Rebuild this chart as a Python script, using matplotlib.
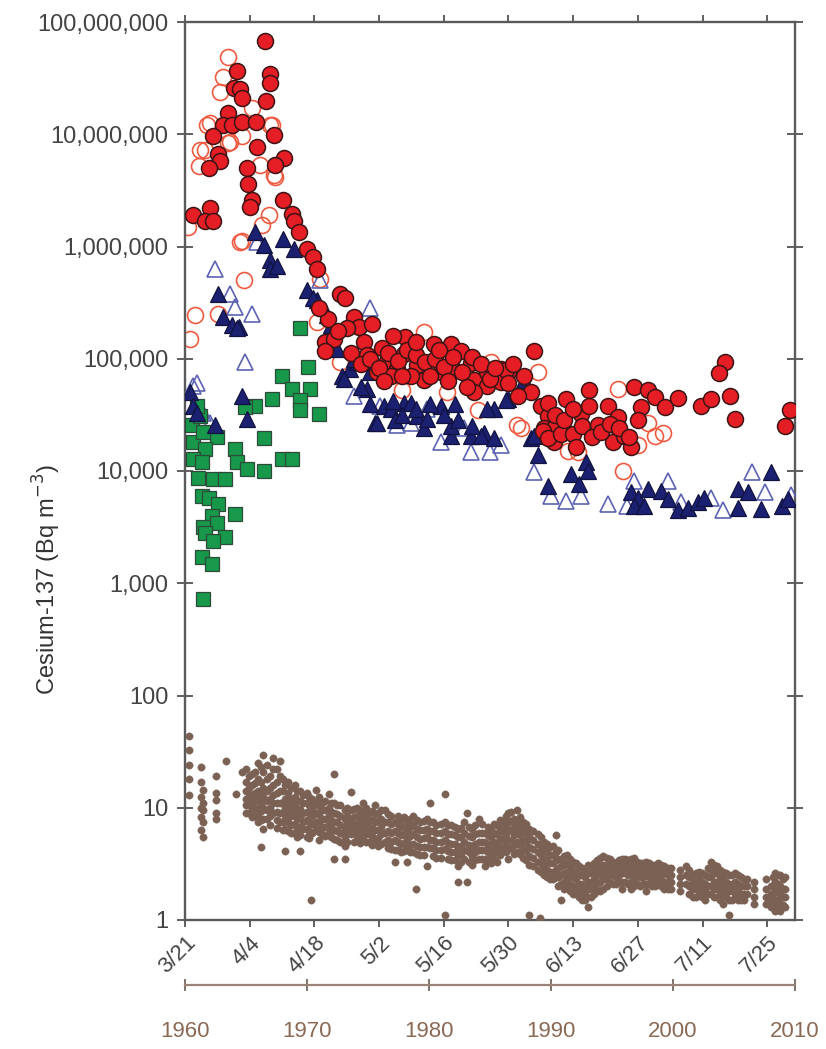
import matplotlib
matplotlib.use("Agg")
import matplotlib.pyplot as plt
import numpy as np

plt.rcParams["font.family"] = ["Liberation Sans", "DejaVu Sans"]

# x = days after 21 March 2011, y = log10(Bq m-3)
red_fill_day = [17.4, 11.2, 18.3, 18.4, 10.5, 11.8, 12.3, 17.6, 9.4, 8.3, 10.1, 12.3, 15.4, 6.1,
                19.3, 15.5, 7.2, 7.6, 5.1, 13.4, 21.5, 19.5, 13.7, 14.5, 14.1, 21.3, 1.8, 5.4,
                4.3, 6.1, 23.1, 23.5, 24.6, 26.4, 27.8, 28.6, 33.6, 34.7, 36.5, 37.6, 40.5, 35.1,
                30.4, 32.2, 30.4, 38.7, 42.7, 47.7, 39.4, 43.8, 47.4, 41.6, 45.9, 50.3, 53.9,
                57.5, 59.7, 55.3, 58.2, 61.8, 62.5, 51.7, 48.8, 44.5, 65.4, 68.3, 69.8, 65.4,
                62.5, 68.3, 75.6, 73.4, 74.8, 77.0, 78.5, 77.7, 79.9, 79.9, 78.5, 69.4, 77.4,
                78.5, 81.3, 82.4, 83.9, 84.6, 85.7, 87.5, 87.5, 89.3, 91.5, 93.7, 92.6, 95.1,
                96.5, 97.2, 100.1, 101.6, 98.7, 103.8, 106.6, 111.7, 113.9, 116.8, 115.6,
                117.9, 119.0, 130.9, 129.8,
                36.0, 38.0, 40.0, 42.0, 44.0, 46.0, 48.0, 50.0, 52.0, 54.0, 56.0, 58.0, 60.0,
                62.0, 64.0, 66.0, 67.0, 70.0, 71.0, 72.0, 80.0, 82.0, 84.0, 86.0, 88.0, 90.0,
                92.0, 94.0, 96.0, 98.0, 43.0, 47.0, 53.0, 57.0, 61.0, 45.0, 50.0, 55.0, 31.0,
                33.0, 29.0]
red_fill_log = [7.83, 7.565, 7.54, 7.455, 7.41, 7.40, 7.32, 7.30, 7.19, 7.08, 7.08, 7.11, 7.11, 6.98,
                6.99, 6.89, 6.82, 6.76, 6.70, 6.70, 6.79, 6.73, 6.56, 6.41, 6.35, 6.41, 6.28, 6.34,
                6.23, 6.23, 6.29, 6.23, 6.13, 5.98, 5.91, 5.80, 5.58, 5.54, 5.37, 5.28, 5.31, 5.27,
                5.15, 5.18, 5.07, 5.15, 5.10, 5.19, 5.03, 4.98, 5.04, 4.88, 4.91, 4.94, 5.13,
                5.13, 5.07, 4.88, 4.90, 4.96, 4.81, 4.81, 4.85, 4.85, 4.88, 4.91, 4.88, 4.76,
                4.70, 4.79, 5.07, 4.85, 4.70, 4.58, 4.49, 4.38, 4.26, 4.38, 4.61, 4.90, 4.36,
                4.29, 4.33, 4.64, 4.33, 4.21, 4.51, 4.72, 4.58, 4.41, 4.58, 4.48, 4.26, 4.31,
                4.21, 4.75, 4.72, 4.66, 4.57, 4.57, 4.65, 4.58, 4.64, 4.97, 4.87,
                4.67, 4.46, 4.54, 4.40,
                5.05, 4.95, 5.00, 4.92, 5.05, 4.98, 5.08, 5.03, 4.97, 5.00, 4.93, 5.02, 4.88,
                5.02, 4.95, 4.82, 4.92, 4.78, 4.95, 4.67, 4.50, 4.45, 4.55, 4.40, 4.30, 4.35,
                4.42, 4.38, 4.30, 4.45, 4.80, 4.85, 4.85, 4.80, 4.75, 5.20, 5.15, 5.08, 5.35,
                5.25, 5.45]

red_open_day = [9.4, 8.3, 7.6, 5.4, 4.3, 9.4, 16.3, 19.5, 18.8, 14.5, 12.3, 18.1, 0.6, 12.3, 16.6,
                12.7, 2.2, 7.2, 1.1, 28.6, 4.7, 3.3, 3.0, 9.8, 18.4, 19.2, 11.9, 51.7, 29.3, 66.2,
                76.3, 63.3, 72.7, 56.7, 33.6, 47.0, 93.7, 92.9, 100.1, 101.6, 103.4, 98.0, 94.7,
                85.0, 82.8, 71.9]
red_open_log = [7.69, 7.51, 7.38, 7.10, 6.86, 6.92, 6.73, 6.62, 7.08, 7.23, 6.98, 6.28, 6.17, 6.05, 6.19,
                5.70, 5.39, 5.40, 5.18, 5.33, 7.08, 6.86, 6.72, 6.93, 7.08, 6.64, 6.04, 5.24, 5.71, 4.97,
                4.88, 4.54, 4.38, 4.70, 4.97, 4.72, 4.73, 4.41, 4.43, 4.31, 4.34, 4.23, 4.00,
                4.17, 4.18, 4.41]

tri_fill_day = [15.2, 17.0, 18.4, 18.4, 7.2, 8.3, 10.1, 11.6, 21.3, 26.4, 28.6, 30.7, 12.3, 13.4,
                1.1, 1.8, 19.9, 23.5, 27.8, 11.2, 6.5, 2.5, 31.5, 32.9, 34.0, 35.8, 37.2, 39.4,
                41.2, 43.0, 44.5, 47.4, 50.3, 51.7, 55.3, 57.5, 61.8, 64.7, 66.9, 36.5, 34.3,
                40.1, 41.6, 48.8, 52.4, 57.5, 64.0, 66.9, 65.4, 69.8, 73.4, 74.8, 76.3, 78.5,
                69.4, 75.6, 83.5, 85.3, 86.8, 87.1, 96.5, 98.0, 100.1, 103.0, 104.5, 106.6,
                108.8, 111.0, 112.4, 119.7, 121.8, 119.7, 126.9, 124.7, 129.1, 130.5, 97.2, 99.4,
                38.0, 45.0, 50.0, 53.0, 56.0, 59.0, 62.0, 45.5, 47.0, 40.0, 58.5]
tri_fill_log = [6.13, 6.01, 5.88, 5.80, 5.58, 5.37, 5.30, 5.28, 6.07, 5.61, 5.52, 5.39, 4.67, 4.46,
                4.70, 4.58, 5.83, 5.98, 5.54, 5.27, 4.41, 4.52, 5.30, 5.09, 4.85, 4.91, 4.97, 4.73,
                4.43, 4.58, 4.55, 4.61, 4.49, 4.38, 4.58, 4.31, 4.31, 4.34, 4.55, 5.00, 4.82,
                4.88, 4.43, 4.61, 4.46, 4.40, 4.31, 4.29, 4.55, 4.64, 4.81, 4.29, 4.14, 3.87,
                4.63, 4.31, 3.97, 3.88, 4.08, 4.00, 3.81, 3.76, 3.84, 3.82, 3.75, 3.65,
                3.67, 3.72, 3.76, 3.84, 3.81, 3.67, 3.99, 3.66, 3.69, 3.75, 3.69, 3.69,
                4.75, 4.62, 4.55, 4.60, 4.50, 4.45, 4.40, 4.45, 4.50, 4.60, 4.60]

tri_open_day = [6.5, 9.8, 10.8, 14.5, 13.0, 1.8, 2.5, 15.5, 29.3, 40.1, 4.0, 5.4, 36.5, 42.3, 45.9,
                52.4, 55.3, 61.8, 68.3, 75.6, 79.2, 48.8, 60.4, 82.4, 85.7, 91.5, 97.2, 104.5,
                113.9, 116.4, 122.6, 125.5, 131.2, 107.4, 95.7, 66.0]
tri_open_log = [5.80, 5.58, 5.46, 5.40, 4.97, 4.76, 4.78, 6.04, 5.70, 5.45, 4.52, 4.43, 4.67, 4.58, 4.41,
                4.55, 4.26, 4.17, 4.23, 3.99, 3.78, 4.43, 4.38, 3.73, 3.78, 3.71, 3.91, 3.91,
                3.76, 3.65, 3.99, 3.81, 3.79, 3.72, 3.69, 4.17]

sq_day = [24.9, 26.7, 21.0, 23.1, 27.1, 18.8, 24.9, 24.9, 28.9, 15.2, 13.0, 17.0, 6.9, 10.8, 21.0,
          23.1, 11.2, 13.4, 17.0, 1.5, 3.3, 1.8, 4.3, 1.8, 3.6, 2.9, 6.1, 8.7, 3.6, 5.1, 7.2, 10.8,
          5.8, 6.9, 4.0, 4.3, 8.7, 6.1, 3.6, 5.8, 4.0, 2.5, 4.0]
sq_log = [5.27, 4.93, 4.85, 4.73, 4.73, 4.64, 4.63, 4.54, 4.51, 4.58, 4.57, 4.29, 4.30, 4.20, 4.11,
          4.11, 4.08, 4.02, 4.00, 4.41, 4.49, 4.26, 4.20, 4.11, 4.08, 3.94, 3.93, 3.93, 3.78, 3.76,
          3.71, 3.62, 3.60, 3.54, 3.50, 3.45, 3.41, 3.38, 3.23, 3.17, 2.86, 4.58, 4.35]

# surface ocean 1960-2010, Bq m-3
brown_year = [1960.3, 1961.3, 1961.5, 1962.5, 1963.4, 1964.2, 1964.7, 1965.0, 1965.5, 1966.0,
              1966.2, 1966.4, 1967.0, 1967.2, 1967.8, 1968.2, 1968.7, 1969.2, 1969.4, 1969.7,
              1970.2, 1970.3, 1970.7, 1971.2, 1971.8, 1972.2, 1972.7, 1973.1, 1973.6, 1974.1,
              1974.6, 1975.1, 1975.6, 1976.1, 1976.4, 1976.9, 1977.2, 1977.7, 1978.2, 1978.7,
              1978.9, 1979.3, 1979.8, 1980.1, 1980.6, 1981.3, 1981.8, 1982.4, 1982.9, 1983.1,
              1983.5, 1984.1, 1984.6, 1985.1, 1985.6, 1986.1, 1986.5, 1987.0, 1987.2, 1987.7,
              1988.2, 1988.9, 1989.1, 1989.4, 1989.9, 1990.4, 1990.8, 1991.3, 1991.8, 1992.3,
              1992.8, 1993.0, 1993.3, 1993.8, 1994.3, 1994.8, 1995.3, 1995.8, 1996.3, 1996.8,
              1997.3, 1997.8, 1998.3, 1998.8, 1999.3, 1999.8, 2000.6, 2001.1, 2001.6, 2002.1,
              2002.6, 2003.1, 2003.6, 2004.1, 2004.6, 2005.1, 2005.6, 2006.1, 2006.6, 2007.6,
              2008.0, 2008.4, 2008.8, 2009.2]
brown_vals = [
    [44, 33, 24, 18, 13], [23, 17, 12.5, 10, 8.3, 6.3], [14.5, 11, 9.5, 7.4, 5.5],
    [19, 13.5, 11.7, 9, 8], [26], [13.3], [21],
    [22, 17, 14, 12, 10.5, 9], [20, 16, 13, 11, 9.5, 8.3], [25, 18, 14, 12, 10, 8.5, 7.5],
    [4.5], [29.5, 21, 15, 12.5, 10, 8, 6.5], [19, 15, 12, 10, 8.5, 7],
    [27.5, 22, 16, 13, 11, 9], [26, 19, 14, 11, 9, 7.5], [16, 12, 10, 8, 6.5, 4.1],
    [15, 12, 10, 8.5, 7, 6], [14, 11.5, 9.5, 8, 6.5, 5.5], [4.1], [13, 11, 9, 7.5, 6.5],
    [12.5, 10.5, 9, 7.5, 6.2, 5.4], [1.5], [14.5, 11, 9, 7.5, 6.5], [11, 9.5, 8, 6.8, 5.8],
    [13.3, 10, 8.5, 7, 6], [20, 11, 9, 7.5, 6.3, 5.3, 3.5], [10.5, 8.5, 7, 6, 5],
    [9.5, 8, 6.5, 5.5, 4.6, 3.5], [13.7, 9.5, 8, 6.8, 5.8], [10, 8.5, 7.2, 6.2, 5.3],
    [11, 9, 7.5, 6.5, 5.5], [9, 7.8, 6.8, 5.8, 5], [10.5, 8.8, 7.5, 6.3, 5.2],
    [9.5, 8, 6.8, 5.8, 4.8], [9.5, 7.5, 6, 5], [8.5, 7.2, 6, 5, 4.3], [7.5, 6.2, 5.2, 4.2, 3.3],
    [8, 6.8, 5.7, 4.8, 4], [7.5, 6.2, 5.3, 4.4, 3.3], [8.5, 7, 5.8, 4.8, 4],
    [1.9], [7.5, 6.3, 5.3, 4.5, 3.8], [8, 6.5, 5.5, 4.5, 3], [11, 7.5, 6.2, 5.2, 4.4],
    [7, 6, 5, 4.2, 3.6], [13.3, 7.5, 6.2, 5.2, 4.3, 1.1], [7, 5.8, 4.8, 4, 3.4],
    [6.5, 5.5, 4.5, 3.8, 3, 2.2], [7.5, 6, 5, 4.2, 3.5], [9, 2.2],
    [6.5, 5.5, 4.5, 3.7, 3.1], [8, 6, 5, 4.2, 3.5], [6, 5, 4.2, 3.5, 3],
    [6.5, 5.5, 4.6, 3.8, 3.2], [7, 5.8, 4.8, 4, 3.3], [7.5, 6.2, 5.2, 4.3],
    [9, 7.5, 6.3, 5.2, 4.3, 3.5], [8, 6.8, 5.7, 4.7, 3.9], [9.5, 7.5, 6.2, 5, 4],
    [7.5, 6.3, 5.2, 4.3, 3.6], [6.5, 5.5, 4.5, 3.7, 3.1, 1.1], [5.8, 4.8, 4, 3.3, 2.8],
    [1.05], [5, 4.2, 3.5, 3, 2.5], [4.5, 3.8, 3.2, 2.7, 2.3], [5.7, 4, 3.4, 2.8, 2.4],
    [3.5, 3, 2.5, 2.1, 1.5], [3.8, 3.2, 2.7, 2.3, 2], [3.3, 2.8, 2.4, 2, 1.7],
    [3, 2.5, 2.1, 1.8, 1.6], [2.8, 2.4, 2, 1.7, 1.5], [1.3], [3, 2.6, 2.2, 1.9, 1.6],
    [3.4, 2.9, 2.5, 2.1, 1.8], [3.7, 3.1, 2.7, 2.3, 1.9], [3.5, 3, 2.6, 2.2],
    [3.2, 2.8, 2.4, 2.1], [3.5, 3, 2.6, 2.2, 1.9], [3.4, 2.9, 2.5, 2.1],
    [3.6, 3.1, 2.7, 2.3, 2], [3.2, 2.8, 2.4, 2], [3.3, 2.9, 2.5, 2.1, 1.8],
    [3.1, 2.7, 2.3, 2], [3.2, 2.8, 2.4, 2.1], [3, 2.6, 2.2, 1.9], [2.9, 2.5, 2.2, 1.9],
    [2.8, 2.4, 2.1, 1.8], [3, 2.5, 2.1], [2.5, 2.2, 1.9, 1.6], [2.7, 2.3, 2, 1.7],
    [2.5, 2.1, 1.8, 1.5], [3.3, 2.8, 2.4, 2, 1.7], [3, 2.6, 2.2, 1.9, 1.6],
    [2.7, 2.3, 2, 1.7, 1.4], [2.5, 2.1, 1.8, 1.5, 1.1], [2.6, 2.2, 1.9, 1.6],
    [2.4, 2, 1.7, 1.5], [2.3, 2, 1.7], [2.2, 1.9, 1.6, 1.4], [2.3, 1.9, 1.6, 1.4],
    [2, 1.7, 1.5, 1.3], [2.6, 2.2, 1.8, 1.5, 1.2], [2.5, 2, 1.7, 1.4, 1.2], [2.4, 1.9, 1.6, 1.3]]

# in-between samples of the same record
brown_year_mid = [1965.25, 1965.75, 1966.25, 1966.75, 1967.5, 1968.0, 1968.45, 1969.0, 1969.45,
                  1970.0, 1970.45, 1971.0, 1971.5, 1972.0, 1972.45, 1973.3, 1973.85, 1974.35,
                  1974.85, 1975.35, 1975.85, 1976.65, 1977.45, 1977.95, 1978.45, 1979.05, 1979.55,
                  1980.35, 1980.95, 1981.55, 1982.15, 1982.65, 1983.3, 1983.8, 1984.35, 1984.85,
                  1985.35, 1985.85, 1986.3, 1986.75, 1987.45, 1987.95, 1988.55, 1989.15, 1989.65,
                  1990.15, 1990.6, 1991.05, 1991.55, 1992.05, 1992.55, 1993.05, 1993.55, 1994.05,
                  1994.55, 1995.05, 1995.55, 1996.05, 1996.55, 1997.05, 1997.55, 1998.05, 1998.55,
                  1999.05, 1999.55, 2001.35, 2001.85, 2002.35, 2002.85, 2003.35, 2003.85, 2004.35,
                  2004.85, 2005.35, 2005.85, 2008.2, 2008.6, 2009.0]
brown_vals_mid = [
    [19, 15, 12.5, 10.5, 9], [21, 16.5, 13.5, 11.5, 9.8, 8.5], [23, 17, 13.5, 11, 9.3, 7.8],
    [24, 18, 14, 11.5, 9.5, 8], [22, 17, 13.5, 11, 9.2, 7.8, 6.6], [18, 14, 11, 9, 7.5, 6.3],
    [17, 13.5, 11, 9, 7.5, 6.2], [16, 12.5, 10.5, 8.8, 7.2, 6], [14, 11.5, 9.8, 8.2, 6.8, 5.7],
    [13.5, 11, 9.2, 7.8, 6.5, 5.5], [12, 10, 8.5, 7.2, 6], [12.5, 10.3, 8.7, 7.3, 6.1, 5.2],
    [11.5, 9.5, 8, 6.7, 5.6], [11, 9.2, 7.8, 6.6, 5.5], [10.5, 8.8, 7.4, 6.2, 5.2],
    [10, 8.5, 7.2, 6, 5], [9.8, 8.3, 7, 5.9, 5], [9.5, 8, 6.8, 5.8, 4.9],
    [10, 8.3, 7, 5.9, 5], [9.3, 7.8, 6.6, 5.6, 4.7], [9, 7.6, 6.4, 5.4, 4.6],
    [8.8, 7.4, 6.2, 5.2, 4.4], [8.5, 7.1, 6, 5, 4.2], [8.2, 6.9, 5.8, 4.9, 4.1],
    [8, 6.7, 5.6, 4.7, 4], [7.8, 6.5, 5.5, 4.6, 3.9], [7.6, 6.4, 5.4, 4.5, 3.8],
    [7.4, 6.2, 5.2, 4.4, 3.7], [7.2, 6, 5, 4.2, 3.6], [7, 5.8, 4.9, 4.1, 3.5],
    [6.8, 5.7, 4.8, 4, 3.4], [6.6, 5.5, 4.6, 3.9, 3.3], [6.8, 5.6, 4.7, 4, 3.3],
    [7, 5.8, 4.8, 4, 3.4], [7.2, 6, 5, 4.2, 3.5], [6.8, 5.7, 4.8, 4, 3.4],
    [7.2, 6, 5, 4.2, 3.5], [7.8, 6.5, 5.4, 4.5, 3.8], [8.5, 7, 5.8, 4.8, 4],
    [9.2, 7.6, 6.3, 5.2, 4.4], [8.3, 6.9, 5.7, 4.7, 3.9], [7.2, 6, 5, 4.1, 3.4],
    [6.2, 5.2, 4.3, 3.6, 3], [5.5, 4.6, 3.8, 3.2, 2.7], [4.8, 4, 3.4, 2.8, 2.4],
    [4.6, 3.8, 3.2, 2.7, 2.3], [4.2, 3.5, 2.9, 2.4, 2], [3.7, 3.1, 2.6, 2.2, 1.9],
    [3.5, 3, 2.5, 2.1, 1.8], [3.2, 2.7, 2.3, 1.9, 1.7], [2.9, 2.5, 2.1, 1.8, 1.5],
    [3.1, 2.6, 2.2, 1.9], [3.2, 2.7, 2.3, 2, 1.7], [3.6, 3, 2.6, 2.2, 1.8],
    [3.6, 3.1, 2.7, 2.3, 2], [3.3, 2.9, 2.5, 2.1], [3.4, 2.9, 2.5, 2.2],
    [3.5, 3, 2.6, 2.2], [3.5, 3, 2.6, 2.2, 1.9], [3.3, 2.9, 2.5, 2.1],
    [3.2, 2.8, 2.4, 2.1], [3.2, 2.8, 2.4, 2.1], [3.1, 2.7, 2.3, 2],
    [3.1, 2.7, 2.3, 2], [2.9, 2.5, 2.2, 1.9], [2.8, 2.4, 2, 1.7],
    [2.6, 2.2, 1.9, 1.6], [2.6, 2.2, 1.9, 1.6], [2.9, 2.4, 2, 1.7],
    [3.1, 2.6, 2.2, 1.9, 1.6], [2.8, 2.4, 2.1, 1.8, 1.5], [2.6, 2.2, 1.9, 1.6],
    [2.5, 2.1, 1.8, 1.5], [2.5, 2.1, 1.8, 1.5], [2.3, 2, 1.7, 1.5],
    [2.4, 2, 1.7, 1.4], [2.5, 2.1, 1.8, 1.5, 1.25], [2.3, 1.9, 1.6, 1.35]]

date_ticks = [0, 14, 28, 42, 56, 70, 84, 98, 112, 126]
date_labels = ["3/21", "4/4", "4/18", "5/2", "5/16", "5/30", "6/13", "6/27", "7/11", "7/25"]
year_ticks = [1960, 1970, 1980, 1990, 2000, 2010]
y_ticks = [1, 10, 100, 1e3, 1e4, 1e5, 1e6, 1e7, 1e8]
y_labels = ["1", "10", "100", "1,000", "10,000", "100,000", "1,000,000", "10,000,000", "100,000,000"]

W, H = 826, 1049
fig = plt.figure(figsize=(W / 100, H / 100), dpi=100)
ax = fig.add_axes([185 / W, 1 - 920 / H, 610 / W, 898 / H])

ax.plot(red_open_day, 10 ** np.array(red_open_log), "o", ms=11.5, mfc="none",
        mec="#ee5a40", mew=1.2, zorder=2)
ax.plot(tri_open_day, 10 ** np.array(tri_open_log), "^", ms=11, mfc="none",
        mec="#5c62b2", mew=1.2, zorder=3)
ax.plot(sq_day, 10 ** np.array(sq_log), "s", ms=9.5, mfc="#17984a",
        mec="#2e4a38", mew=0.9, zorder=4)
ax.plot(tri_fill_day, 10 ** np.array(tri_fill_log), "^", ms=11, mfc="#1c2070",
        mec="#10123f", mew=0.9, zorder=5)
ax.plot(red_fill_day, 10 ** np.array(red_fill_log), "o", ms=11.5, mfc="#e41e24",
        mec="#3c1414", mew=1.1, zorder=6)

ax.set_yscale("log")
ax.set_ylim(1, 1e8)
ax.set_xlim(0, 132)
ax.set_yticks(y_ticks)
ax.set_yticklabels(y_labels)
ax.yaxis.set_minor_locator(matplotlib.ticker.NullLocator())

for s in ax.spines.values():
    s.set_color("#5a5a5a")
    s.set_linewidth(1.7)

# brown points on a second x axis, 1960-2010
ax2 = ax.twiny()
ax2.set_xlim(1960, 2010)
bx, by = [], []
for yrs, vals in [(brown_year, brown_vals), (brown_year_mid, brown_vals_mid)]:
    for yr, vv in zip(yrs, vals):
        bx += [yr] * len(vv)
        by += vv
ax2.plot(bx, by, "o", ms=5.3, mfc="#7b6154", mec="#7b6154", mew=0.3, zorder=3)
ax2.set_ylim(1, 1e8)
ax2.xaxis.set_ticks_position("bottom")
ax2.xaxis.set_label_position("bottom")
ax2.spines["bottom"].set_position(("outward", 47))
for k in ["top", "left", "right"]:
    ax2.spines[k].set_visible(False)
ax2.spines["bottom"].set_color("#9a8478")
ax2.spines["bottom"].set_linewidth(1.6)
ax2.set_xticks(year_ticks)
ax2.tick_params(axis="x", direction="inout", length=8, width=1.2, color="#6a5a50",
                pad=22, labelsize=16, labelcolor="#8b6a55")

ax.set_xticks(date_ticks)
ax.set_xticklabels(date_labels, rotation=45, ha="right", rotation_mode="anchor")
ax.xaxis.set_ticks_position("both")
ax.tick_params(axis="x", which="major", direction="out", length=5, width=1.2,
               colors="#444444", labelsize=16, pad=4, top=True, bottom=True)
ax.tick_params(axis="y", which="major", direction="inout", length=12, width=1.2,
               colors="#444444", labelsize=17, pad=6, left=True, right=True)

ax.set_ylabel("Cesium-137 (Bq m$^{-3}$)", fontsize=17, color="#333333")
ax.yaxis.set_label_coords(-0.20, 0.379)

fig.savefig("out.png", dpi=100)
